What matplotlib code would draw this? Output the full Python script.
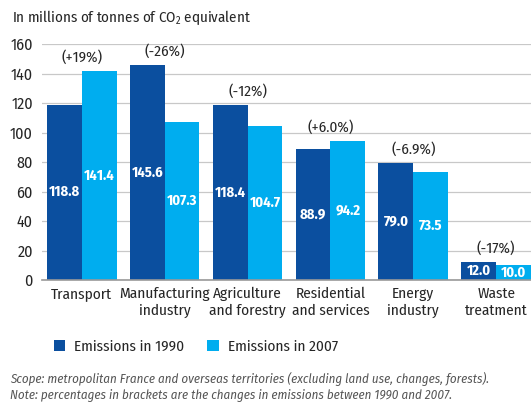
import matplotlib
matplotlib.use("Agg")
import matplotlib.pyplot as plt
import numpy as np

FONT = ['Fira Sans Condensed', 'DejaVu Sans']
plt.rcParams['font.family'] = FONT
plt.rcParams['mathtext.fontset'] = 'custom'
plt.rcParams['mathtext.rm'] = 'Fira Sans Condensed'
plt.rcParams['mathtext.it'] = 'Fira Sans Condensed:italic'
plt.rcParams['mathtext.bf'] = 'Fira Sans Condensed:bold'

categories = ["Transport", "Manufacturing\nindustry", "Agriculture\nand forestry",
              "Residential\nand services", "Energy\nindustry", "Waste\ntreatment"]
emissions_1990 = [118.8, 145.6, 118.4, 88.9, 79.0, 12.0]
emissions_2007 = [141.4, 107.3, 104.7, 94.2, 73.5, 10.0]
changes = ["(+19%)", "(-26%)", "(-12%)", "(+6.0%)", "(-6.9%)", "(-17%)"]
yticks = [0, 20, 40, 60, 80, 100, 120, 140, 160]

C1990 = "#0b4f9f"
C2007 = "#00adef"
TXT = '#262626'

fig = plt.figure(figsize=(5.31, 4.03), dpi=100)
ax = fig.add_axes([42/531, 1-280/403, 1-42/531, (280-44)/403])

x = np.arange(len(categories))
w = 0.42
b1 = ax.bar(x - w/2, emissions_1990, w, color=C1990, label="Emissions in 1990")
b2 = ax.bar(x + w/2, emissions_2007, w, color=C2007, label="Emissions in 2007")

for xi, v in zip(x - w/2, emissions_1990):
    ax.text(xi, v/2, f"{v:.1f}", ha='center', va='center', color='white',
            fontsize=10.5, fontweight='bold')
for xi, v in zip(x + w/2, emissions_2007):
    ax.text(xi, v/2, f"{v:.1f}", ha='center', va='center', color='white',
            fontsize=10.5, fontweight='bold')
for xi, a, b, c in zip(x, emissions_1990, emissions_2007, changes):
    ax.text(xi, max(a, b) + 9.5, c, ha='center', va='center', color=TXT, fontsize=11)

ax.set_xlim(-0.48, 5.42)
ax.set_ylim(0, 160)
ax.set_yticks(yticks)
ax.set_xticks(x)
ax.set_xticklabels(categories, fontsize=11, color=TXT, linespacing=1.2)
ax.tick_params(axis='both', length=0, labelsize=11.5, colors=TXT)
ax.tick_params(axis='x', labelsize=11, pad=5)
ax.tick_params(axis='y', pad=6.5)
ax.grid(axis='y', color='#c8c8c8', linewidth=0.9)
ax.set_axisbelow(True)
for s in ['left', 'right', 'top']:
    ax.spines[s].set_visible(False)
ax.spines['bottom'].set_color('#999999')
ax.spines['bottom'].set_linewidth(1.2)

fig.text(12/531, 1-18/403, "In millions of tonnes of CO$_2$ equivalent", fontsize=10.8,
         color=TXT, va='center', ha='left')

leg = fig.legend(handles=[b1, b2], loc='center left', bbox_to_anchor=(40/531, 1-347/403),
                 ncol=2, frameon=False, handlelength=0.75, handleheight=0.75,
                 columnspacing=1.5, handletextpad=0.6, prop={'size': 11})
for t in leg.get_texts():
    t.set_color(TXT)

fig.text(10/531, 1-379/403,
         "Scope: metropolitan France and overseas territories (excluding land use, changes, forests).",
         fontsize=9.3, style='italic', color='#555555', va='center', ha='left')
fig.text(10/531, 1-395/403,
         "Note: percentages in brackets are the changes in emissions between 1990 and 2007.",
         fontsize=9.3, style='italic', color='#555555', va='center', ha='left')

fig.savefig("out.png", dpi=100)
